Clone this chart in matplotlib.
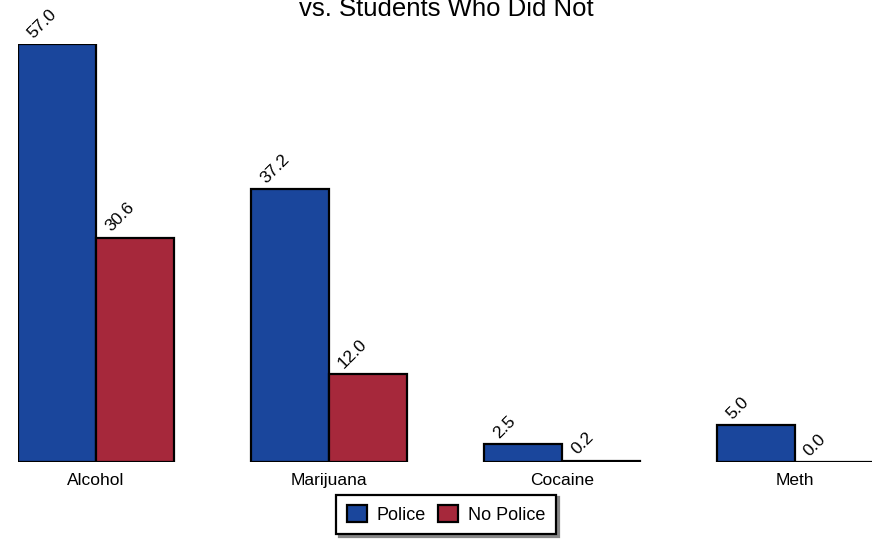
import matplotlib.pyplot as plt
import numpy as np

plt.rcParams['font.family'] = ['Liberation Sans', 'DejaVu Sans']

categories = ['Alcohol', 'Marijuana', 'Cocaine', 'Meth']
police = [57.0, 37.2, 2.5, 5.0]
no_police = [30.6, 12.0, 0.2, 0.0]

blue = '#1a469c'
red = '#a6283b'
w = 0.335

fig = plt.figure(figsize=(8.72, 5.39), dpi=100)
ax = fig.add_axes([18/872, 77/539, 855/872, 418/539])
x = np.arange(len(categories))

b1 = ax.bar(x - w/2, police, w, color=blue, edgecolor='black', linewidth=1.6, label='Police')
b2 = ax.bar(x + w/2, no_police, w, color=red, edgecolor='black', linewidth=1.6, label='No Police')

# value labels, tilted, sitting just above the left corner of each bar
for bars in (b1, b2):
    for rect in bars:
        h = rect.get_height()
        ax.text(rect.get_x() + 0.064, h + 0.7, f'{h:.1f}', rotation=45,
                rotation_mode='anchor', ha='left', va='baseline', fontsize=12.5)

ax.set_xlim(-w, 3 + w)
ax.set_ylim(0, 57)
ax.set_xticks(x)
ax.set_xticklabels(categories, fontsize=12.5)
ax.tick_params(axis='x', length=0, pad=8.2)
ax.set_yticks([])
for s in ax.spines.values():
    s.set_visible(False)

# title runs off the top of the canvas, only its second line shows
fig.text(446/872, 1 - 16.5/539, 'Percentage of Students Who Used Drugs After Police Contact\nvs. Students Who Did Not',
         ha='center', va='baseline', fontsize=18.5, linespacing=1.2)

leg = fig.legend(loc='center', bbox_to_anchor=(446/872, 1 - 514.5/539), ncol=2, fontsize=13,
                 frameon=True, fancybox=False, shadow={'color': '#888888', 'alpha': 1},
                 handlelength=1.1, handleheight=1.0,
                 handletextpad=0.55, columnspacing=0.65, borderpad=0.6)
leg.get_frame().set_edgecolor('black')
leg.get_frame().set_linewidth(1.6)
for p in leg.get_patches():
    p.set_linewidth(1.6)

fig.savefig('out.png', dpi=100)
